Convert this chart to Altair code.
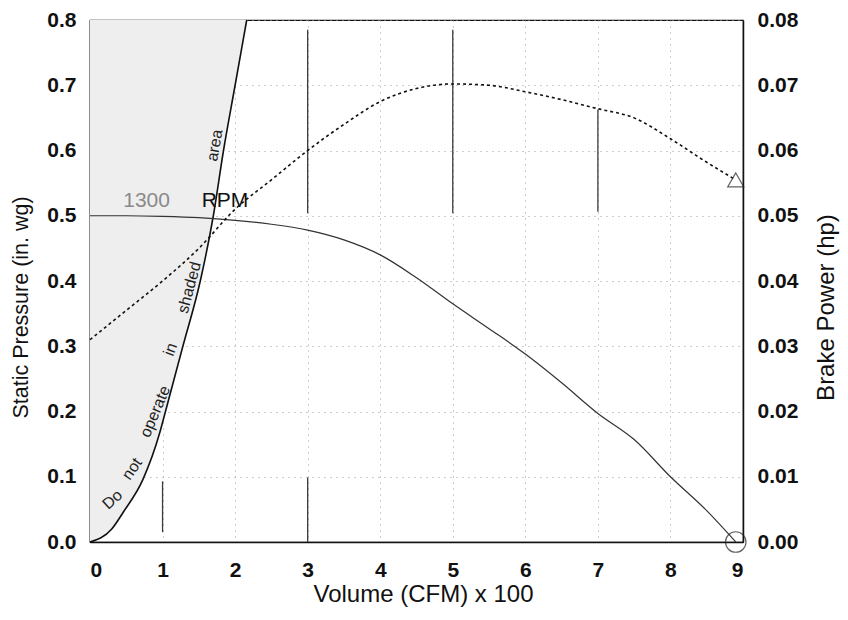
import altair as alt
import pandas as pd

# ---- data ----
vol = [0, 0.5, 1, 1.5, 2, 2.5, 3, 3.5, 4, 4.5, 5, 5.5, 6, 6.5, 7, 7.5, 8, 8.5, 8.9]
static_pressure = [0.500, 0.500, 0.499, 0.497, 0.493, 0.487, 0.478, 0.463, 0.440, 0.405,
                   0.365, 0.327, 0.288, 0.244, 0.197, 0.157, 0.100, 0.048, 0.000]
brake_power = [0.0310, 0.0355, 0.0400, 0.0450, 0.0510, 0.0555, 0.0600, 0.0640, 0.0675, 0.0695,
               0.0702, 0.0700, 0.0690, 0.0678, 0.0664, 0.0650, 0.0618, 0.0582, 0.0555]

limit_p = [0, 0.02, 0.046, 0.096, 0.167, 0.2, 0.3, 0.4, 0.5, 0.6, 0.7, 0.8]
limit_v = [0, 0.3, 0.46, 0.73, 0.96, 1.04, 1.28, 1.52, 1.70, 1.84, 2.0, 2.16]

words = ["Do", "not", "operate", "in", "shaded", "area"]
word_v = [0.31, 0.58, 0.9, 1.11, 1.37, 1.72]
word_p = [0.065, 0.112, 0.2, 0.295, 0.39, 0.608]
word_angle = [318, 305, 293, 290, 285, 280]

rpm_text = ["1300", "RPM"]
rpm_v = [0.78, 1.86]
rpm_p = [0.522, 0.522]

# partially printed grid segments visible in the scan
seg_v = [3, 5, 7, 3, 1]
seg_top = [0.785, 0.785, 0.663, 0.099, 0.093]
seg_bottom = [0.504, 0.504, 0.506, 0.0, 0.015]

x_ticks = [0, 1, 2, 3, 4, 5, 6, 7, 8, 9]
yl_ticks = [0, 0.1, 0.2, 0.3, 0.4, 0.5, 0.6, 0.7, 0.8]
yr_ticks = [0, 0.01, 0.02, 0.03, 0.04, 0.05, 0.06, 0.07, 0.08]

# ---- tables ----
curve = pd.DataFrame({"v": vol, "sp": static_pressure, "bp": brake_power})
limit = pd.DataFrame({"v": limit_v, "p": limit_p, "zero": [0] * len(limit_p)})
wdf = pd.DataFrame({"w": words, "v": word_v, "p": word_p, "a": word_angle})
rdf = pd.DataFrame({"t": rpm_text, "v": rpm_v, "p": rpm_p, "c": ["#8a8a8a", "#111111"]})
sdf = pd.DataFrame({"v": seg_v, "top": seg_top, "bot": seg_bottom})
end_df = curve.tail(1)

xscale = alt.Scale(domain=[0, 9], nice=False, zero=False)
xaxis = alt.Axis(values=x_ticks, format="d", title="Volume (CFM) x 100", labelPadding=17,
                 grid=True, gridDash=[1, 5], gridColor="#9a9a9a", titleFontSize=24,
                 titleX=333, titleY=52, titleBaseline="middle", titleAlign="center")
yl_scale = alt.Scale(domain=[0, 0.8], nice=False)
yl_axis = alt.Axis(values=yl_ticks, format=".1f", title="Static Pressure (in. wg)", labelPadding=14,
                   grid=True, gridDash=[1, 5], gridColor="#9a9a9a", titleFontSize=21.5,
                   titleAngle=270, titleX=-69, titleY=287, titleAlign="center", titleBaseline="middle")
yr_scale = alt.Scale(domain=[0, 0.08], nice=False)
yr_axis = alt.Axis(values=yr_ticks, format=".2f", title="Brake Power (hp)", labelPadding=14,
                   grid=False, orient="right", titleFontSize=24,
                   titleAngle=270, titleX=83, titleY=287, titleAlign="center", titleBaseline="middle")


def X(f):
    return alt.X(f, type="quantitative", scale=xscale, axis=xaxis)


def YL(f):
    return alt.Y(f, type="quantitative", scale=yl_scale, axis=yl_axis)


def YR(f):
    return alt.Y(f, type="quantitative", scale=yr_scale, axis=yr_axis)


shade = alt.Chart(limit).mark_area(orient="horizontal", color="#eeeeee", interpolate="monotone").encode(
    y=YL("p"), x=X("v"), x2=alt.X2("zero"))
segs = alt.Chart(sdf).mark_rule(color="#3a3a3a", strokeWidth=1.3).encode(
    x=X("v"), y=YL("top"), y2=alt.Y2("bot"))
limit_line = alt.Chart(limit).mark_line(color="#111111", strokeWidth=1.6, interpolate="monotone").encode(
    x=X("v"), y=YL("p"), order=alt.Order("p:Q"))
sp_line = alt.Chart(curve).mark_line(color="#333333", strokeWidth=1.2, interpolate="monotone").encode(
    x=X("v"), y=YL("sp"))
circ = alt.Chart(end_df).mark_point(shape="circle", size=420, filled=False, color="#222222",
                                    strokeWidth=1.2).encode(x=X("v"), y=YL("sp"))
wtext = alt.Chart(wdf).mark_text(font="Liberation Sans", fontSize=16, color="#222222").encode(
    x=X("v"), y=YL("p"), text="w:N", angle=alt.Angle("a:Q", scale=None))
rtext = alt.Chart(rdf).mark_text(font="Liberation Sans", fontSize=21).encode(
    x=X("v"), y=YL("p"), text="t:N", color=alt.Color("c:N", scale=None))

bp_line = alt.Chart(curve).mark_line(color="#111111", strokeWidth=1.6, strokeDash=[3, 3],
                                     interpolate="monotone").encode(x=X("v"), y=YR("bp"))
tri = alt.Chart(end_df).mark_point(shape="triangle-up", size=260, filled=False, color="#222222",
                                   strokeWidth=1.2).encode(x=X("v"), y=YR("bp"))

left = alt.layer(shade, segs, limit_line, sp_line, circ, wtext, rtext)
right = alt.layer(bp_line, tri)

chart = alt.layer(left, right).resolve_scale(y="independent").properties(
    width=653, height=522,
    background="white",
    autosize=alt.AutoSizeParams(type="none"),
    padding={"left": 82, "top": 12, "right": 97, "bottom": 68},
).configure_view(stroke="#111111", strokeWidth=1.2).configure_axis(
    labelFont="Liberation Sans", labelFontWeight="bold", labelFontSize=21, labelColor="#111111",
    titleFont="Liberation Sans", titleFontWeight="normal", titleColor="#111111",
    ticks=False, domainColor="#111111", domainWidth=1.5,
)

chart.save("out.html", embed_options={"renderer": "svg", "actions": False})
